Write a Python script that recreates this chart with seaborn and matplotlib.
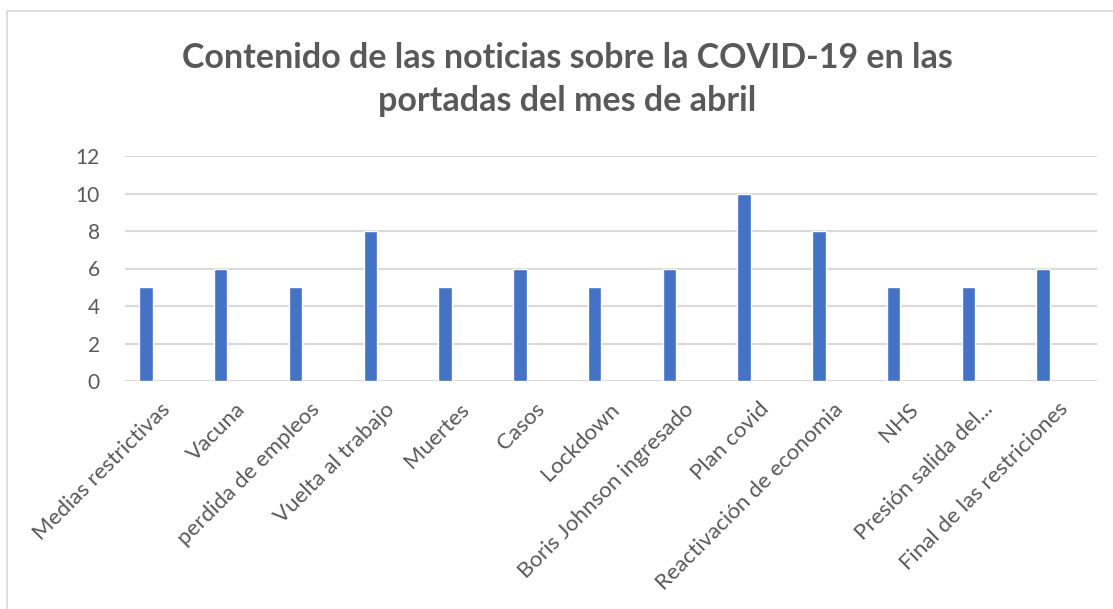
import numpy as np
import pandas as pd
import seaborn as sns
import matplotlib.pyplot as plt
from matplotlib.patches import Rectangle
from matplotlib.transforms import ScaledTranslation

temas = ["Medias restrictivas", "Vacuna", "perdida de empleos", "Vuelta al trabajo",
         "Muertes", "Casos", "Lockdown", "Boris Johnson ingresado", "Plan covid",
         "Reactivación de economia", "NHS", "Presión salida del...",
         "Final de las restriciones"]
noticias = [5, 6, 5, 8, 5, 6, 5, 6, 10, 8, 5, 5, 6]
y_ticks = [0, 2, 4, 6, 8, 10, 12]

GRIS = "#595959"
AZUL = "#4472C4"
REJILLA = "#D9D9D9"

sns.set_style("white")
plt.rcParams["font.family"] = ["Lato", "DejaVu Sans"]

fig = plt.figure(figsize=(11.13, 6.09), dpi=100)
ax = fig.add_axes([125 / 1113, 1 - 381 / 609, 972 / 1113, 225 / 609])

df = pd.DataFrame({"tema": temas, "noticias": noticias})
sns.barplot(data=df, x="tema", y="noticias", color=AZUL, width=0.18,
            saturation=1, ax=ax)

# Excel deja las columnas desplazadas a la izquierda dentro de cada categoría
offset = 0.22
ax.set_xlim(-0.5 + offset, len(temas) - 0.5 + offset)
ax.set_xticks(np.arange(len(temas)) + offset)
ax.set_xticklabels(temas, rotation=45, ha="right", va="center",
                   rotation_mode="anchor", fontsize=16, color=GRIS)
ax.set_xlabel("")
ax.set_ylabel("")

ax.set_ylim(0, 12)
ax.set_yticks(y_ticks)
ax.set_yticklabels([str(v) for v in y_ticks], fontsize=15, color=GRIS)
ax.yaxis.grid(True, color=REJILLA, linewidth=1.5)
ax.set_axisbelow(True)
ax.tick_params(axis="both", length=0)
ax.tick_params(axis="y", pad=18)
ax.tick_params(axis="x", pad=18)
for s in ax.spines.values():
    s.set_visible(False)

# pequeño ajuste de las etiquetas giradas hacia la derecha
fig.canvas.draw()
desplaza = ScaledTranslation(5 / 100, 0, fig.dpi_scale_trans)
for lbl in ax.get_xticklabels():
    lbl.set_transform(lbl.get_transform() + desplaza)

fig.text(567 / 1113, 1 - 58 / 609, "Contenido de las noticias sobre la COVID-19 en las",
         ha="center", va="center", fontsize=24.5, fontweight="bold", color=GRIS)
fig.text(567 / 1113, 1 - 101 / 609, "portadas del mes de abril",
         ha="center", va="center", fontsize=24.5, fontweight="bold", color=GRIS)

# marco del gráfico (sale por la derecha y por abajo como en la captura)
fig.patches.append(Rectangle((7 / 1113, -0.1), 1.2, 1 - 11 / 609 + 0.1,
                             transform=fig.transFigure, fill=False,
                             edgecolor=REJILLA, linewidth=1.2))

fig.savefig("out.png", dpi=100, facecolor="white")
